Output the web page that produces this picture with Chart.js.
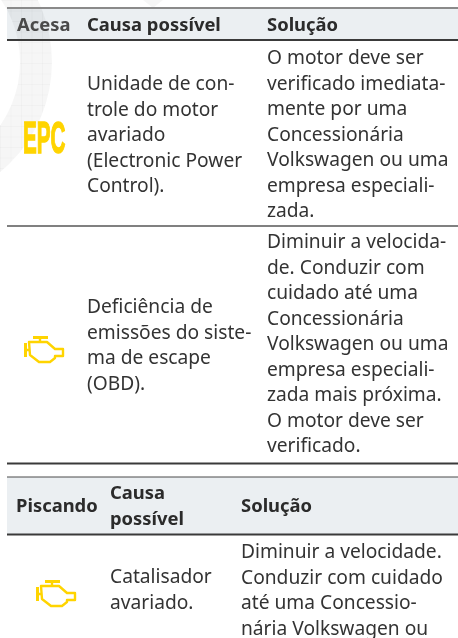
<!DOCTYPE html>
<html lang="pt">
<head>
<meta charset="utf-8">
<title>Acesa / Piscando</title>
<script src="https://cdn.jsdelivr.net/npm/chart.js@4"></script>
<style>
  html, body { margin: 0; padding: 0; background: #fff; }
  canvas { display: block; }
</style>
</head>
<body>
<canvas id="table" width="458" height="638"></canvas>
<script>
// table text, one entry per printed line
var headerAcesa = ["Acesa", "Causa possível", "Solução"];
var causeEpc = ["Unidade de con-", "trole do motor", "avariado", "(Electronic Power", "Control)."];
var solutionEpc = ["O motor deve ser", "verificado imediata-", "mente por uma", "Concessionária", "Volkswagen ou uma", "empresa especiali-", "zada."];
var causeObd = ["Deficiência de", "emissões do siste-", "ma de escape", "(OBD)."];
var solutionObd = ["Diminuir a velocida-", "de. Conduzir com", "cuidado até uma", "Concessionária", "Volkswagen ou uma", "empresa especiali-", "zada mais próxima.", "O motor deve ser", "verificado."];
var headerPiscando = ["Piscando", "Solução"];
var causeHeaderPiscando = ["Causa", "possível"];
var causeCat = ["Catalisador", "avariado."];
var solutionCat = ["Diminuir a velocidade.", "Conduzir com cuidado", "até uma Concessio-", "nária Volkswagen ou"];
var epcLabel = "EPC";

// layout, page pixels
var LINE = 25.55;
var BODY_FONT = "19.2px 'Noto Sans'";
var HEAD_FONT = "bold 18.4px 'Noto Sans'";
var INK = "#333333";
var HEAD_INK = "#2b2b2b";
var YELLOW = "#ffd400";
var BAND = "#ebeff2";

var rules = [
    { y: 8, color: "#8a8a8a", width: 2 },
    { y: 40, color: "#3a3a3a", width: 2 },
    { y: 226, color: "#808080", width: 2 },
    { y: 463.5, color: "#3a3a3a", width: 2 },
    { y: 477, color: "#4a4a4a", width: 1 },
    { y: 534.5, color: "#3a3a3a", width: 2 }
];
var bands = [[9, 39], [477, 534]];
var engineSpots = [{ x: 45, y: 350 }, { x: 57, y: 594 }];

// engine warning lamp, used as the point style
function engineIcon() {
    var c = document.createElement("canvas");
    c.width = 42;
    c.height = 28;
    var g = c.getContext("2d");
    g.strokeStyle = YELLOW;
    g.lineWidth = 2.4;
    g.lineJoin = "round";
    g.beginPath();
    g.moveTo(5, 6);
    g.lineTo(23, 6);
    g.lineTo(31, 13);
    g.lineTo(39, 13);
    g.lineTo(39, 20);
    g.lineTo(31, 20);
    g.lineTo(31, 22);
    g.lineTo(26, 26);
    g.lineTo(15, 26);
    g.lineTo(6, 19);
    g.closePath();
    g.moveTo(1.5, 14);
    g.lineTo(5, 14);
    g.moveTo(16, 2);
    g.lineTo(16, 6);
    g.stroke();
    g.lineWidth = 3;
    g.beginPath();
    g.moveTo(9, 1.5);
    g.lineTo(24, 1.5);
    g.moveTo(1.5, 7);
    g.lineTo(1.5, 21);
    g.stroke();
    return c;
}

function lines(ctx, items, x, y) {
    items.forEach(function (t, i) {
        ctx.fillText(t, x, y + i * LINE);
    });
}

var tablePlugin = {
    id: "tablePlugin",
    beforeDatasetsDraw: function (chart) {
        var ctx = chart.ctx;
        ctx.save();
        ctx.fillStyle = BAND;
        bands.forEach(function (b) {
            ctx.fillRect(7, b[0], 451, b[1] - b[0]);
        });
        // faint gridded watermark ring behind the top left corner
        ctx.fillStyle = "rgba(0,0,0,0.035)";
        ctx.beginPath();
        ctx.moveTo(143, 0);
        ctx.lineTo(163, 0);
        ctx.lineTo(153, 8);
        ctx.fill();
        ctx.beginPath();
        ctx.arc(-91, 62, 143, 0, Math.PI * 2);
        ctx.arc(-91, 62, 111, 0, Math.PI * 2, true);
        ctx.fill();
        ctx.clip();
        ctx.strokeStyle = "rgba(0,0,0,0.025)";
        ctx.lineWidth = 1;
        ctx.beginPath();
        for (var i = 0; i < 18; i++) {
            ctx.moveTo(i * 10.5 + 0.5, 0);
            ctx.lineTo(i * 10.5 + 0.5, 190);
            ctx.moveTo(0, i * 10.5 + 0.5);
            ctx.lineTo(60, i * 10.5 + 0.5);
        }
        ctx.stroke();
        ctx.restore();
    },
    afterDatasetsDraw: function (chart) {
        var ctx = chart.ctx;
        ctx.save();
        ctx.textBaseline = "alphabetic";
        ctx.font = HEAD_FONT;
        ctx.fillStyle = "#4a4a4a";
        ctx.fillText(headerAcesa[0], 17, 31);
        ctx.fillStyle = HEAD_INK;
        ctx.fillText(headerAcesa[1], 87, 31);
        ctx.fillText(headerAcesa[2], 267, 31);
        ctx.fillText(headerPiscando[0], 16, 512);
        lines(ctx, causeHeaderPiscando, 110, 499);
        ctx.fillText(headerPiscando[1], 241, 512);

        ctx.font = BODY_FONT;
        ctx.fillStyle = INK;
        lines(ctx, causeEpc, 87, 90);
        lines(ctx, solutionEpc, 267, 64);
        lines(ctx, causeObd, 87, 313);
        lines(ctx, solutionObd, 267, 248);
        lines(ctx, causeCat, 110, 583);
        lines(ctx, solutionCat, 241, 558);

        // EPC lamp, condensed bold letters
        ctx.translate(23, 152.5);
        ctx.scale(0.47, 1);
        ctx.font = "bold 44px 'Liberation Sans'";
        ctx.fillStyle = YELLOW;
        ctx.strokeStyle = YELLOW;
        ctx.lineWidth = 1.4;
        ctx.fillText(epcLabel, 0, 0);
        ctx.strokeText(epcLabel, 0, 0);
        ctx.restore();
    }
};

var ruleSets = rules.map(function (r) {
    return {
        type: "line",
        data: [{ x: 7, y: r.y }, { x: 458, y: r.y }],
        borderColor: r.color,
        borderWidth: r.width,
        pointRadius: 0
    };
});

new Chart(document.getElementById("table").getContext("2d"), {
    type: "scatter",
    data: {
        datasets: ruleSets.concat([{
            data: engineSpots,
            pointStyle: engineIcon(),
            pointRadius: 14
        }])
    },
    options: {
        responsive: false,
        animation: false,
        layout: { padding: 0, autoPadding: false },
        plugins: { legend: { display: false }, tooltip: { enabled: false } },
        scales: {
            x: { type: "linear", min: 0, max: 458, display: false },
            y: { type: "linear", min: 0, max: 638, reverse: true, display: false }
        }
    },
    plugins: [tablePlugin]
});
</script>
</body>
</html>
